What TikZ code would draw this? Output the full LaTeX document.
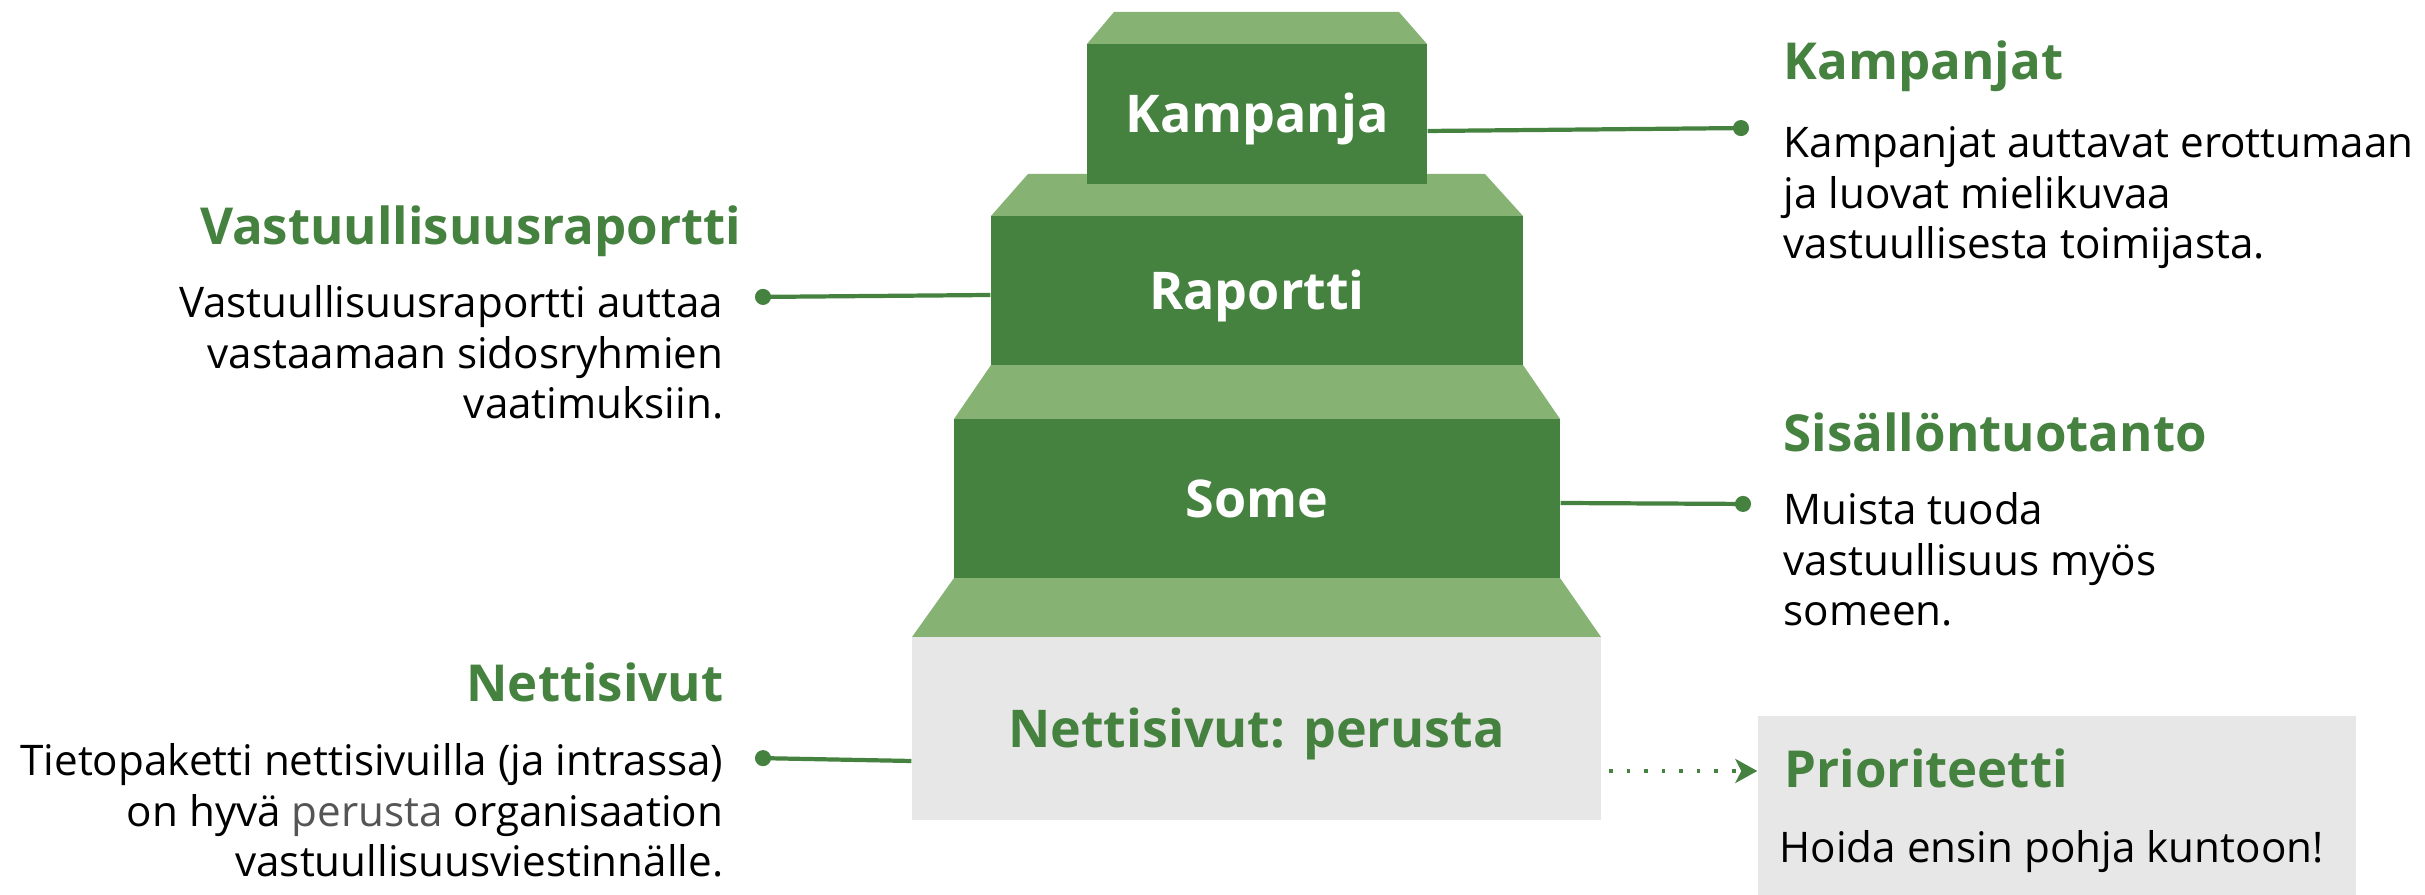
\documentclass[tikz,border=0pt]{standalone}
\usepackage{fontspec}
\setmainfont{Open Sans}
\usetikzlibrary{arrows.meta,positioning}
\definecolor{leafdark}{HTML}{45813F}
\definecolor{leaflight}{HTML}{86B373}
\definecolor{basegray}{HTML}{E7E7E7}
\definecolor{notegray}{HTML}{555555}
\newcommand{\headfont}{\fontsize{14.5}{17}\selectfont\bfseries}
\newcommand{\stepfont}{\fontsize{14.8}{17}\selectfont\bfseries}
\newcommand{\bodyfont}{\fontsize{12}{14.5}\selectfont}
\tikzset{
  front/.style={fill=leafdark, text=white, font=\stepfont, inner sep=0pt, text height=10.6pt, text depth=0pt},
  topface/.style={fill=leaflight},
  heading/.style={text=leafdark, font=\headfont, inner sep=0pt},
  bodytext/.style={font=\bodyfont, inner sep=0pt},
  link/.style={leafdark, line width=1.2pt, -{Circle[length=1.6mm]}},
  dotlink/.style={leafdark, line width=1.2pt, dash pattern=on 1pt off 4pt, -{Stealth[length=2.2mm,width=2.4mm,inset=0.6mm]}}
}
\begin{document}
\begin{tikzpicture}[x=0.1mm,y=-0.1mm]
\useasboundingbox (0,0) rectangle (2425,895);
% top faces of the steps
\fill[topface] (1087,44) -- (1114,12) -- (1399,12) -- (1427,44) -- cycle;
\fill[topface] (991,216) -- (1028,174) -- (1485,174) -- (1523,216) -- cycle;
\fill[topface] (954,419) -- (991,365) -- (1523,365) -- (1560,419) -- cycle;
\fill[topface] (912,637) -- (954,578) -- (1560,578) -- (1601,637) -- cycle;
% fronts
\node[front, minimum width=34mm, minimum height=14mm] (kamp) at (1257,114) {Kampanja};
\node[front, minimum width=53.2mm, minimum height=14.9mm] (rap) at (1257,290.5) {Raportti};
\node[front, minimum width=60.6mm, minimum height=15.9mm] (some) at (1257,498.5) {Some};
\node[front, fill=basegray, text=leafdark, minimum width=68.9mm, minimum height=18.3mm] (netti) at (1256.5,728.5) {Nettisivut: perusta};
\node[fill=basegray, minimum width=59.8mm, minimum height=17.9mm, inner sep=0pt] (prio) at (2057,805.5) {};

% left texts
\node[heading, anchor=base east] (vhead) at (742,245) {Vastuullisuusraportti};
\node[bodytext, align=right, anchor=base east] (vbody) at (724,419) {Vastuullisuusraportti auttaa\\vastaamaan sidosryhmien\\vaatimuksiin.};
\node[heading, anchor=base east] (nhead) at (724,702) {Nettisivut};
\node[bodytext, align=right, anchor=base east] (nbody) at (724,877) {Tietopaketti nettisivuilla (ja intrassa)\\on hyvä \textcolor{notegray}{perusta} organisaation\\vastuullisuusviestinnälle.};

% right texts
\node[heading, anchor=base west] (khead) at (1783,80) {Kampanjat};
\node[bodytext, align=left, anchor=base west] (kbody) at (1783,259) {Kampanjat auttavat erottumaan\\ja luovat mielikuvaa\\vastuullisesta toimijasta.};
\node[heading, anchor=base west] (shead) at (1783,452) {Sisällöntuotanto};
\node[bodytext, align=left, anchor=base west] (sbody) at (1783,626) {Muista tuoda\\vastuullisuus myös\\someen.};
\node[heading, anchor=base west] (phead) at (1784,788) {Prioriteetti};
\node[bodytext, anchor=base west] (pbody) at (1779,863) {Hoida ensin pohja kuntoon!};

% connectors
\coordinate (kdot) at (1749,128);
\coordinate (rdot) at (755,297);
\coordinate (sdot) at (1751,504);
\coordinate (ndot) at (755,758);
\draw[link] ([yshift=-1.7mm]kamp.east) -- (kdot);
\draw[link] ([yshift=-0.45mm]rap.west) -- (rdot);
\draw[link] ([yshift=-0.45mm]some.east) -- (sdot);
\draw[link] ([yshift=-3.25mm]netti.west) -- (ndot);
\coordinate (pstart) at (1609,771);
\draw[dotlink] (pstart) -- (pstart -| prio.west);
\end{tikzpicture}
\end{document}
